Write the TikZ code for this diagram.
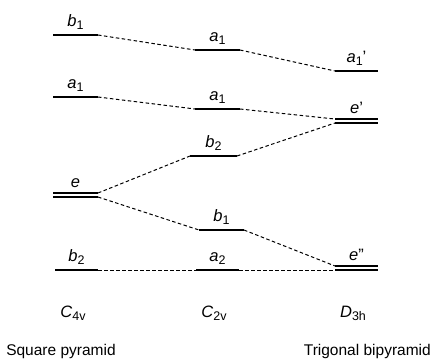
\documentclass[tikz,border=0pt]{standalone}
\usepackage{fontspec}
\setmainfont{Liberation Sans}
\usetikzlibrary{positioning}
\newcommand{\lsub}[1]{\raisebox{-0.35ex}{\fontsize{12.5}{14}\selectfont #1}}

\begin{document}
\begin{tikzpicture}[
    x=1pt, y=-1pt,
    level/.style={line width=1.4pt},
    link/.style={line width=1pt, dash pattern=on 3.5pt off 2.5pt},
    lab/.style={above=4pt, inner sep=1pt, font=\fontsize{16.5}{19}\selectfont},
    grp/.style={anchor=base, inner sep=0pt, font=\fontsize{16.5}{19}\selectfont},
    geo/.style={anchor=base, inner sep=0pt, font=\fontsize{15.5}{18}\selectfont}
]
\useasboundingbox (0,0) rectangle (432,360);

% square pyramid levels
\draw[level] (53,35) coordinate (sb1w) -- node[lab] (sb1) {\textit{b}\lsub{1}} (98,35) coordinate (sb1e);
\draw[level] (53,97) coordinate (sa1w) -- node[lab] (sa1) {\textit{a}\lsub{1}} (98,97) coordinate (sa1e);
\draw[level] (53,193) coordinate (sew1) -- node[lab] (se) {\textit{e}} (98,193) coordinate (see1);
\draw[level] (53,197) coordinate (sew2) -- (98,197) coordinate (see2);
\draw[level] (55,270) coordinate (sb2w) -- node[lab] (sb2) {\textit{b}\lsub{2}} (98,270) coordinate (sb2e);

% C2v levels
\draw[level] (195,50) coordinate (ma1w) -- node[lab] (ma1) {\textit{a}\lsub{1}} (240,50) coordinate (ma1e);
\draw[level] (195,109) coordinate (mc1w) -- node[lab] (mc1) {\textit{a}\lsub{1}} (240,109) coordinate (mc1e);
\draw[level] (190,156) coordinate (mb2w) -- node[lab] (mb2) {\textit{b}\lsub{2}} (237,156) coordinate (mb2e);
\draw[level] (199,230) coordinate (mb1w) -- node[lab] (mb1) {\textit{b}\lsub{1}} (244,230) coordinate (mb1e);
\draw[level] (196,270) coordinate (ma2w) -- node[lab] (ma2) {\textit{a}\lsub{2}} (239,270) coordinate (ma2e);

% trigonal bipyramid levels
\draw[level] (335,71) coordinate (ta1w) -- node[lab] (ta1) {\textit{a}\lsub{1}\symbol{"27}} (378,71) coordinate (ta1e);
\draw[level] (335,119) coordinate (tew1) -- node[lab] (te) {\textit{e}\symbol{"27}} (378,119) coordinate (tee1);
\draw[level] (335,123) coordinate (tew2) -- (378,123) coordinate (tee2);
\draw[level] (335,266) coordinate (tfw1) -- node[lab] (tf) {\textit{e}\symbol{"22}} (378,266) coordinate (tfe1);
\draw[level] (335,270) coordinate (tfw2) -- (378,270) coordinate (tfe2);

% correlation lines
\draw[link] (sb1e) -- (ma1w);
\draw[link] (ma1e) -- (ta1w);
\draw[link] (sa1e) -- (mc1w);
\draw[link] (mc1e) -- (tew1);
\draw[link] (see1) -- (mb2w);
\draw[link] (mb2e) -- (tew2);
\draw[link] (see2) -- (mb1w);
\draw[link] (mb1e) -- (tfw1);
\draw[link] (sb2e) -- (ma2w);
\draw[link] (ma2e) -- (tfw2);

% point groups
\node[grp] (c4v) at (73,317) {\textit{C}\lsub{4v}};
\node[grp] (c2v) at (214,317) {\textit{C}\lsub{2v}};
\node[grp] (d3h) at (353,317) {\textit{D}\lsub{3h}};
\node[geo] (sqp) at (61,355) {Square pyramid};
\node[geo, anchor=base east] (tbp) at (431,355) {Trigonal bipyramid};
\end{tikzpicture}
\end{document}
